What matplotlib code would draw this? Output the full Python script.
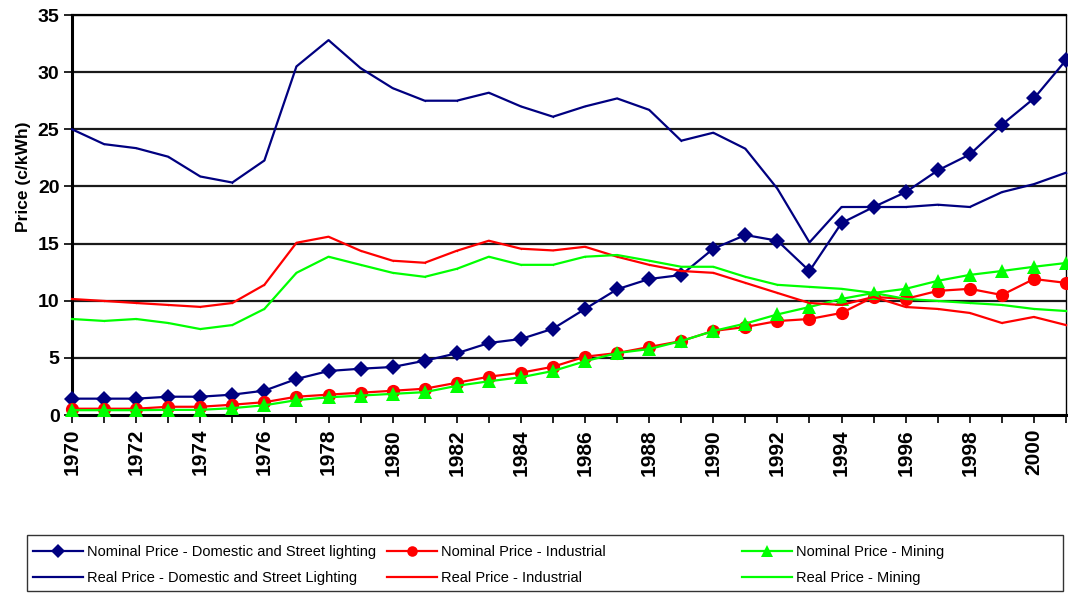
import matplotlib
matplotlib.use("Agg")
import matplotlib.pyplot as plt
from matplotlib.patches import Rectangle

years = list(range(1970, 2002))

nominal_domestic = [1.43, 1.43, 1.43, 1.6, 1.6, 1.78, 2.13, 3.15, 3.85, 4.05, 4.2, 4.75,
                    5.4, 6.3, 6.65, 7.55, 9.28, 11.0, 11.9, 12.25, 14.55, 15.75, 15.25,
                    12.6, 16.8, 18.2, 19.5, 21.4, 22.8, 25.4, 27.7, 31.05]
nominal_industrial = [0.55, 0.55, 0.55, 0.72, 0.72, 0.9, 1.12, 1.6, 1.78, 1.95, 2.12, 2.3,
                      2.82, 3.35, 3.7, 4.22, 5.1, 5.42, 5.95, 6.47, 7.35, 7.7, 8.22, 8.4,
                      8.93, 10.33, 10.16, 10.86, 11.04, 10.5, 11.9, 11.56]
nominal_mining = [0.42, 0.42, 0.42, 0.45, 0.45, 0.6, 0.85, 1.3, 1.55, 1.7, 1.85, 2.0,
                  2.55, 2.95, 3.3, 3.85, 4.7, 5.42, 5.77, 6.47, 7.35, 8.0, 8.8, 9.45,
                  10.16, 10.68, 11.04, 11.74, 12.26, 12.6, 12.97, 13.3]
real_domestic = [25.0, 23.7, 23.35, 22.6, 20.87, 20.34, 22.27, 30.5, 32.8, 30.35, 28.6, 27.5,
                 27.5, 28.2, 27.0, 26.1, 27.0, 27.7, 26.7, 24.0, 24.7, 23.3, 19.8, 15.1,
                 18.2, 18.2, 18.2, 18.4, 18.2, 19.5, 20.2, 21.2]
real_industrial = [10.15, 9.98, 9.8, 9.63, 9.46, 9.8, 11.39, 15.07, 15.6, 14.37, 13.5, 13.32,
                   14.37, 15.25, 14.55, 14.4, 14.72, 13.85, 13.14, 12.6, 12.44, 11.56, 10.68,
                   9.8, 9.63, 10.33, 9.45, 9.28, 8.93, 8.05, 8.58, 7.87]
real_mining = [8.4, 8.23, 8.4, 8.05, 7.52, 7.87, 9.28, 12.44, 13.85, 13.14, 12.44, 12.09,
               12.79, 13.85, 13.14, 13.14, 13.85, 14.0, 13.5, 12.97, 12.97, 12.09, 11.39,
               11.21, 11.04, 10.68, 10.16, 9.98, 9.8, 9.63, 9.28, 9.1]

labels = ["Nominal Price - Domestic and Street lighting",
          "Nominal Price - Industrial",
          "Nominal Price - Mining",
          "Real Price - Domestic and Street Lighting",
          "Real Price - Industrial",
          "Real Price - Mining"]

y_ticks = [0, 5, 10, 15, 20, 25, 30, 35]
x_label_years = list(range(1970, 2001, 2))

NAVY = "#000080"
RED = "#FF0000"
GREEN = "#00FF00"

W, H = 1068, 593
fig = plt.figure(figsize=(W / 100, H / 100), dpi=100)
ax = fig.add_axes([72 / W, 1 - 415 / H, (1066 - 72) / W, (415 - 15) / H])

styles = [
    dict(color=NAVY, marker="D", markersize=8.5),
    dict(color=RED, marker="o", markersize=9.5),
    dict(color=GREEN, marker="^", markersize=10.5),
    dict(color=NAVY, marker=".", markersize=2),
    dict(color=RED, marker=".", markersize=2),
    dict(color=GREEN, marker=".", markersize=2),
]
series = [nominal_domestic, nominal_industrial, nominal_mining,
          real_domestic, real_industrial, real_mining]

handles = []
for i, (vals, st, lab) in enumerate(zip(series, styles, labels)):
    ln, = ax.plot(years, vals, linewidth=1.6, label=lab, clip_on=False,
                  markeredgewidth=0, zorder=3 + i, **st)
    handles.append(ln)

ax.set_xlim(1970, 2001)
ax.set_ylim(0, 35)
ax.set_yticks(y_ticks)
ax.set_xticks(years)
ax.set_xticklabels([str(y) if y in x_label_years else "" for y in years],
                   rotation=90, fontsize=15, fontweight="bold", family="Liberation Sans")
ax.set_yticklabels([str(v) for v in y_ticks], fontsize=14, fontweight="bold",
                   family="Liberation Sans")
ax.tick_params(axis="both", direction="out", length=6, width=1.2, color="black")
ax.tick_params(axis="x", pad=4)
ax.tick_params(axis="y", pad=3)

for v in y_ticks[1:]:
    ax.axhline(v, color="#1a1a1a", linewidth=1.6, zorder=1)

for s in ["left", "bottom"]:
    ax.spines[s].set_linewidth(2.2)
    ax.spines[s].set_zorder(2)
ax.spines["top"].set_linewidth(1.6)
ax.spines["right"].set_linewidth(1.0)

fig.text(24 / W, 1 - 177 / H, "Price (c/kWh)", rotation=90, ha="center", va="center",
         fontsize=12.5, fontweight="bold", family="Liberation Sans")

# Legend frame
fig.patches.append(Rectangle((27 / W, 1 - 591 / H), (1063 - 27) / W, (591 - 535) / H,
                             transform=fig.transFigure, fill=False, edgecolor="#333333",
                             linewidth=1.0))

legend_font = dict(family="Liberation Sans", size=10.5)
col_x = [33, 387, 742]
for c in range(3):
    hs = [handles[c], handles[c + 3]]
    fig.legend(hs, [h.get_label() for h in hs], loc="center left",
               bbox_to_anchor=(col_x[c] / W, 1 - 565 / H), frameon=False,
               borderpad=0, borderaxespad=0, handlelength=3.4, handletextpad=0.3,
               labelspacing=0.8, prop=legend_font, markerscale=0.8)

fig.savefig("out.png", dpi=100)
